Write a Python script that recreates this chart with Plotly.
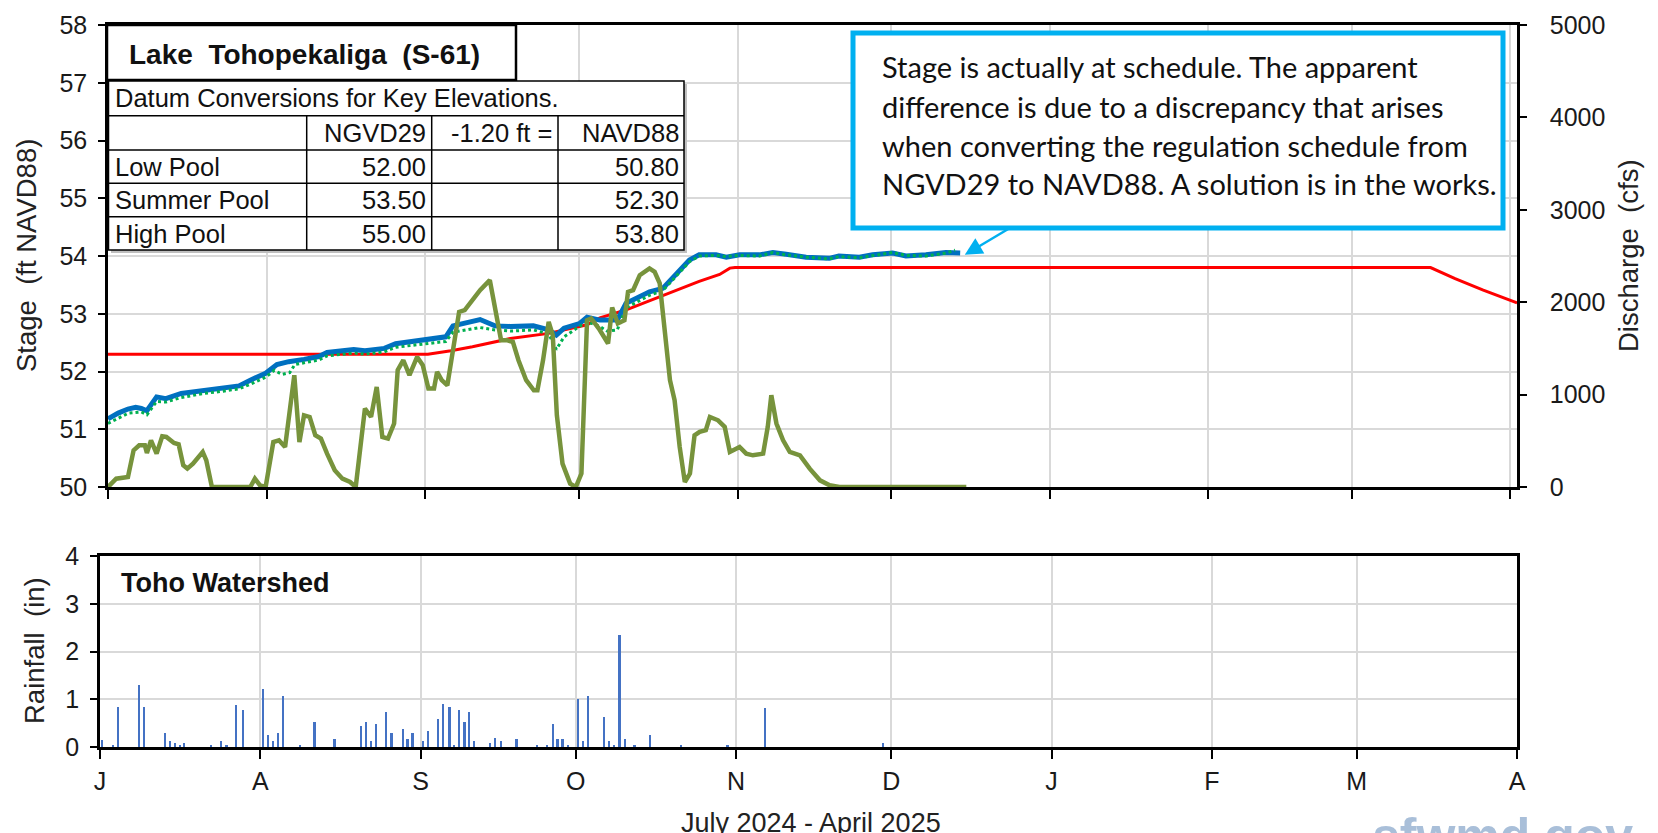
import plotly.graph_objects as go
import pandas as pd

W, H = 1658, 833
START = pd.Timestamp("2024-07-01")

# ---------------- data (day offsets from 2024-07-01) ----------------
stage_days = [0, 2, 3.9, 5.4, 6.5, 7.6, 9.5, 11.3, 14.3, 18.8, 22.5, 25.6, 27.8, 30.8, 33, 35.3,
              38.3, 41.2, 42.8, 48, 50.2, 54, 56.2, 60, 63.7, 66, 67.4, 69.7, 72.7, 75.6, 78.6,
              83.1, 86.1, 87.6, 89.1, 92.1, 93.6, 96.1, 99.5, 101.2, 105.8, 108.4, 111, 113.6,
              115.5, 118.8, 120.8, 123.4, 127.3, 129.9, 132.5, 136.4, 140.9, 142.8, 146.8, 149.4,
              153.3, 155.9, 159.8, 163.7, 166.5]
stage_ft = [51.18, 51.28, 51.35, 51.38, 51.36, 51.32, 51.56, 51.53, 51.62, 51.68, 51.72, 51.75,
            51.85, 51.97, 52.12, 52.17, 52.21, 52.26, 52.33, 52.38, 52.36, 52.40, 52.48, 52.52,
            52.56, 52.60, 52.79, 52.84, 52.90, 52.79, 52.78, 52.79, 52.72, 52.63, 52.75, 52.83,
            52.94, 52.89, 52.89, 53.18, 53.38, 53.44, 53.70, 53.93, 54.02, 54.02, 53.98, 54.02,
            54.02, 54.06, 54.03, 53.98, 53.96, 54.00, 53.98, 54.02, 54.05, 54.00, 54.02, 54.06,
            54.05]

stage2_days = [0, 4, 6.5, 7.6, 9.5, 11.3, 14.3, 18.8, 22.5, 25.6, 27.8, 30.8, 32.5, 34, 35.5,
               36.5, 38.3, 41.2, 42.8, 48, 50.2, 54, 56.2, 60, 63.7, 66, 67.4, 69.7, 72.7, 75.6,
               78.6, 83.1, 86.1, 87.6, 89.1, 92.1, 93.6, 96.1, 97.5, 99.5, 101.2, 105.8, 108.4,
               111, 113.6, 115.5, 118.8, 120.8, 123.4, 127.3, 129.9, 132.5, 136.4, 140.9, 142.8,
               146.8, 149.4, 153.3, 155.9, 159.8, 163.7, 165.5]
stage2_ft = [51.10, 51.28, 51.30, 51.25, 51.48, 51.47, 51.55, 51.62, 51.66, 51.70, 51.78, 51.90,
             52.02, 51.95, 51.98, 52.12, 52.15, 52.20, 52.27, 52.32, 52.30, 52.34, 52.42, 52.46,
             52.49, 52.52, 52.68, 52.72, 52.76, 52.72, 52.70, 52.72, 52.65, 52.38, 52.60, 52.78,
             52.86, 52.78, 52.70, 52.72, 53.10, 53.32, 53.40, 53.65, 53.90, 54.00, 54.01, 53.99,
             54.01, 54.00, 54.06, 54.02, 53.98, 53.95, 53.99, 53.97, 54.01, 54.06, 54.01, 54.00,
             54.05, 54.10]

sched_days = [0, 62.5, 67, 71.2, 78.6, 86.1, 93.6, 96.1, 101, 105, 109, 115.5, 119.5, 121.5,
              122.5, 258.4, 263.2, 268.7, 275.3]
sched_ft = [52.30, 52.30, 52.36, 52.43, 52.57, 52.66, 52.81, 52.93, 53.06, 53.20, 53.34, 53.56,
            53.68, 53.79, 53.80, 53.80, 53.61, 53.41, 53.19]

flow_days = [0, 1.6, 3.9, 5.0, 6.1, 7.2, 7.6, 8.4, 9.5, 10.6, 11.4, 12.9, 13.8, 14.7, 15.5, 16.6,
             18.5, 19.2, 20.3, 27.8, 28.7, 29.7, 30.8, 32.3, 33.4, 34.6, 36.4, 37.4, 38.3, 39.4,
             40.5, 41.6, 42.8, 44.3, 45.8, 47.3, 48.4, 50.2, 51.4, 52.5, 53.6, 54.7, 55.9, 56.6,
             57.7, 58.9, 60.4, 61.5, 62.6, 63.7, 64.3, 65.2, 66.3, 67.5, 68.6, 69.7, 71.2, 72.7,
             74.6, 75.3, 76.8, 77.9, 79.1, 80.2, 81.7, 83.2, 83.9, 85.0, 86.1, 86.9, 87.7, 88.8,
             90.3, 91.4, 92.5, 93.6, 94.4, 95.9, 97.7, 98.5, 99.6, 100.9, 101.6, 102.6, 103.9,
             105.8, 106.8, 107.8, 108.8, 109.8, 110.7, 111.7, 112.7, 113.7, 114.6, 115.6, 116.8,
             117.6, 119.2, 120.5, 121.5, 123.4, 124.7, 126.0, 128.0, 128.9, 129.6, 130.6, 131.9,
             133.2, 135.2, 137.1, 139.1, 141.0, 142.9, 167.7]
flow_cfs = [0, 90, 108, 397, 451, 451, 368, 505, 361, 549, 542, 476, 462, 235, 199, 253,
            379, 289, 0, 0, 90, 18, 0, 487, 505, 433, 1210, 487, 776, 758,
            560, 524, 361, 181, 90, 54, 0, 849, 758, 1083, 542, 524, 687, 1264,
            1372, 1210, 1408, 1318, 1066, 1066, 1245, 1156, 1101, 1480, 1895, 1914, 2022, 2130,
            2239, 2022, 1589, 1589, 1570, 1372, 1156, 1047, 1047, 1372, 1787, 1643, 776, 253,
            36, 0, 145, 1805, 1824, 1715, 1553, 1943, 1770, 1805, 2112, 2130, 2293,
            2365, 2329, 2203, 1697, 1156, 939, 433, 54, 145, 560, 596, 614,
            758, 722, 650, 379, 433, 361, 343, 361, 650, 993, 687, 505,
            379, 343, 199, 72, 18, 0, 0]

rain_days = [0.5, 2.5, 3.5, 7.6, 8.6, 12.6, 13.6, 14.5, 15.5, 16.3, 21.5, 23.5, 24.5, 26.4, 27.7,
             31.5, 32.5, 33.5, 34.4, 35.4, 38.7, 41.5, 45.4, 50.5, 51.5, 52.4, 53.4, 55.4, 56.4,
             58.6, 59.5, 60.5, 62.5, 63.5, 65.4, 66.4, 67.6, 68.5, 69.5, 70.5, 71.4, 72.4, 75.4,
             76.4, 77.6, 80.6, 84.5, 86.5, 87.6, 88.5, 89.5, 90.5, 92.5, 93.5, 94.4, 97.5, 98.5,
             99.5, 100.5, 101.5, 103.4, 106.4, 112.4, 121.4, 128.6, 151.5]
rain_in = [0.14, 0.04, 0.84, 1.29, 0.84, 0.30, 0.12, 0.09, 0.05, 0.09, 0.05, 0.12, 0.05, 0.89, 0.77,
           1.21, 0.26, 0.12, 0.30, 1.07, 0.05, 0.52, 0.16, 0.45, 0.52, 0.12, 0.49, 0.74, 0.30,
           0.38, 0.16, 0.30, 0.12, 0.34, 0.59, 0.91, 0.84, 0.05, 0.77, 0.52, 0.74, 0.12, 0.09,
           0.19, 0.12, 0.16, 0.05, 0.05, 0.49, 0.16, 0.16, 0.05, 1.00, 0.12, 1.07, 0.63, 0.12,
           0.05, 2.34, 0.16, 0.05, 0.26, 0.05, 0.05, 0.81, 0.09]

month_starts = ["2024-07-01", "2024-08-01", "2024-09-01", "2024-10-01", "2024-11-01",
                "2024-12-01", "2025-01-01", "2025-02-01", "2025-03-01", "2025-04-01"]
month_labels = ["J", "A", "S", "O", "N", "D", "J", "F", "M", "A"]

table_header = ["", "NGVD29", "-1.20 ft =", "NAVD88"]
pool_names = ["Low Pool", "Summer Pool", "High Pool"]
pool_ngvd29 = ["52.00", "53.50", "55.00"]
pool_navd88 = ["50.80", "52.30", "53.80"]

callout_lines = ["Stage is actually at schedule. The apparent",
                 "difference is due to a discrepancy that arises",
                 "when converting the regulation schedule from",
                 "NGVD29 to NAVD88. A solution is in the works."]


def to_dates(days):
    return [START + pd.Timedelta(days=d) for d in days]


def px(x):
    return x / W


def py(y):
    return 1 - y / H


ARIAL = "Liberation Sans, Arial, sans-serif"
GRID = "#d9d9d9"

fig = go.Figure()

fig.add_trace(go.Scatter(x=to_dates(sched_days), y=sched_ft, mode="lines",
                         line=dict(color="#ff0000", width=3), xaxis="x", yaxis="y"))
fig.add_trace(go.Scatter(x=to_dates(flow_days), y=flow_cfs, mode="lines",
                         line=dict(color="#77933c", width=4.5), xaxis="x", yaxis="y2"))
fig.add_trace(go.Scatter(x=to_dates(stage_days), y=stage_ft, mode="lines",
                         line=dict(color="#0070c0", width=5), xaxis="x", yaxis="y"))
fig.add_trace(go.Scatter(x=to_dates(stage2_days), y=stage2_ft, mode="lines",
                         line=dict(color="#00b050", width=3, dash="dot"), xaxis="x", yaxis="y"))
fig.add_trace(go.Bar(x=to_dates(rain_days), y=rain_in, marker=dict(color="#4472c4", line_width=0),
                     width=0.35 * 86400000, xaxis="x2", yaxis="y3"))

tick_font = dict(family=ARIAL, size=25, color="#1a1a1a")
axis_common = dict(showline=True, linecolor="black", linewidth=2.5, ticks="outside",
                   tickcolor="black", tickwidth=2, zeroline=False, automargin=False)

fig.update_layout(
    width=W, height=H, margin=dict(l=0, r=0, t=0, b=0),
    paper_bgcolor="white", plot_bgcolor="white", showlegend=False, bargap=0,
    xaxis=dict(domain=[px(108), px(1517)], anchor="y", type="date",
               range=["2024-07-01", "2025-04-02 07:00"], tickvals=month_starts,
               showticklabels=False, showgrid=True, gridcolor=GRID, gridwidth=2,
               ticklen=9, mirror=True, **axis_common),
    yaxis=dict(domain=[py(487), py(25)], anchor="x", range=[50, 58], dtick=1,
               showgrid=True, gridcolor=GRID, gridwidth=2, ticklen=7,
               tickfont=tick_font, ticklabelstandoff=6, **axis_common),
    yaxis2=dict(overlaying="y", side="right", anchor="x", range=[0, 5000], dtick=1000,
                showgrid=False, ticklen=7, tickfont=tick_font, ticklabelstandoff=18,
                **axis_common),
    xaxis2=dict(domain=[px(100), px(1517)], anchor="y3", type="date",
                range=["2024-07-01", "2025-04-01"], tickvals=month_starts,
                ticktext=month_labels, showgrid=True, gridcolor=GRID, gridwidth=2,
                ticklen=9, tickfont=tick_font, ticklabelstandoff=1, mirror=True,
                **axis_common),
    yaxis3=dict(domain=[py(747), py(556)], anchor="x2", range=[0, 4], dtick=1,
                showgrid=True, gridcolor=GRID, gridwidth=2, ticklen=7,
                tickfont=tick_font, ticklabelstandoff=6, mirror=True, **axis_common),
)

shapes = []
# title box
shapes.append(dict(type="rect", xref="paper", yref="paper", x0=px(107), x1=px(516),
                   y0=py(80), y1=py(25), line=dict(color="black", width=2.5), fillcolor="white"))
# table shadow + table
shapes.append(dict(type="rect", xref="paper", yref="paper", x0=px(111), x1=px(687),
                   y0=py(253), y1=py(84), line=dict(width=0), fillcolor="#bfbfbf"))
shapes.append(dict(type="rect", xref="paper", yref="paper", x0=px(108.5), x1=px(684),
                   y0=py(250), y1=py(81), line=dict(color="black", width=1.5), fillcolor="white"))
row_lines = [115.7, 150, 183.3, 216.7]
col_lines = [306.7, 431.7, 558]
for yy in row_lines:
    shapes.append(dict(type="line", xref="paper", yref="paper", x0=px(108.5), x1=px(684),
                       y0=py(yy), y1=py(yy), line=dict(color="black", width=1.5)))
for xx in col_lines:
    shapes.append(dict(type="line", xref="paper", yref="paper", x0=px(xx), x1=px(xx),
                       y0=py(250), y1=py(115.7), line=dict(color="black", width=1.5)))
# callout box
shapes.append(dict(type="rect", xref="paper", yref="paper", x0=px(853), x1=px(1503),
                   y0=py(228), y1=py(33), line=dict(color="#00b0f0", width=5), fillcolor="white"))
fig.update_layout(shapes=shapes)

ann = []


def text(x, y, s, size=25, bold=False, xanchor="left", family=ARIAL, color="#111111", angle=0):
    ann.append(dict(xref="paper", yref="paper", x=px(x), y=py(y), text=("<b>%s</b>" % s) if bold else s,
                    showarrow=False, xanchor=xanchor, yanchor="middle", textangle=angle,
                    font=dict(family=family, size=size, color=color)))


text(127, 54, "Lake  Tohopekaliga  (S-61)", size=28, bold=True)
text(113, 98, "Datum Conversions for Key Elevations.", size=25.5)
col_right = [428, 554, 681]
for i, h in enumerate(table_header[1:]):
    text(col_right[i], 133, h, size=25.5, xanchor="right")
row_y = [166.5, 200, 233.5]
for i in range(3):
    text(113, row_y[i], pool_names[i], size=25.5)
    text(col_right[0], row_y[i], pool_ngvd29[i], size=25.5, xanchor="right")
    text(col_right[2], row_y[i], pool_navd88[i], size=25.5, xanchor="right")

line_y = [66, 106, 145, 184]
for s, yy in zip(callout_lines, line_y):
    text(880, yy, s, size=29, family="Lato, Carlito, Calibri, sans-serif", color="#111111")

text(119, 583, "Toho Watershed", size=27, bold=True)

text(27, 256, "Stage  (ft NAVD88)", size=27.5, angle=-90, xanchor="center", color="#222222")
text(1629, 256, "Discharge  (cfs)", size=27.5, angle=-90, xanchor="center", color="#222222")
text(34, 651, "Rainfall  (in)", size=27.5, angle=-90, xanchor="center", color="#222222")
text(811, 823, "July 2024 - April 2025", size=27, xanchor="center", color="#222222")

ann.append(dict(xref="paper", yref="paper", x=px(1502), y=py(806), text="<b>sfwmd.gov</b>",
                showarrow=False, xanchor="center", yanchor="top",
                font=dict(family=ARIAL, size=50, color="#a9bfd9")))

# callout pointer
ann.append(dict(xref="x", yref="y", x=START + pd.Timedelta(days=167.4), y=54.02, text="",
                showarrow=True, arrowhead=2, arrowsize=1.4, arrowwidth=2.5, arrowcolor="#00b0f0",
                axref="pixel", ayref="pixel", ax=47, ay=-28, standoff=0))

fig.update_layout(annotations=ann)

fig.write_html("out.html", config={"displayModeBar": False},
               post_script="document.body.style.margin='0';document.body.style.overflow='hidden';")
